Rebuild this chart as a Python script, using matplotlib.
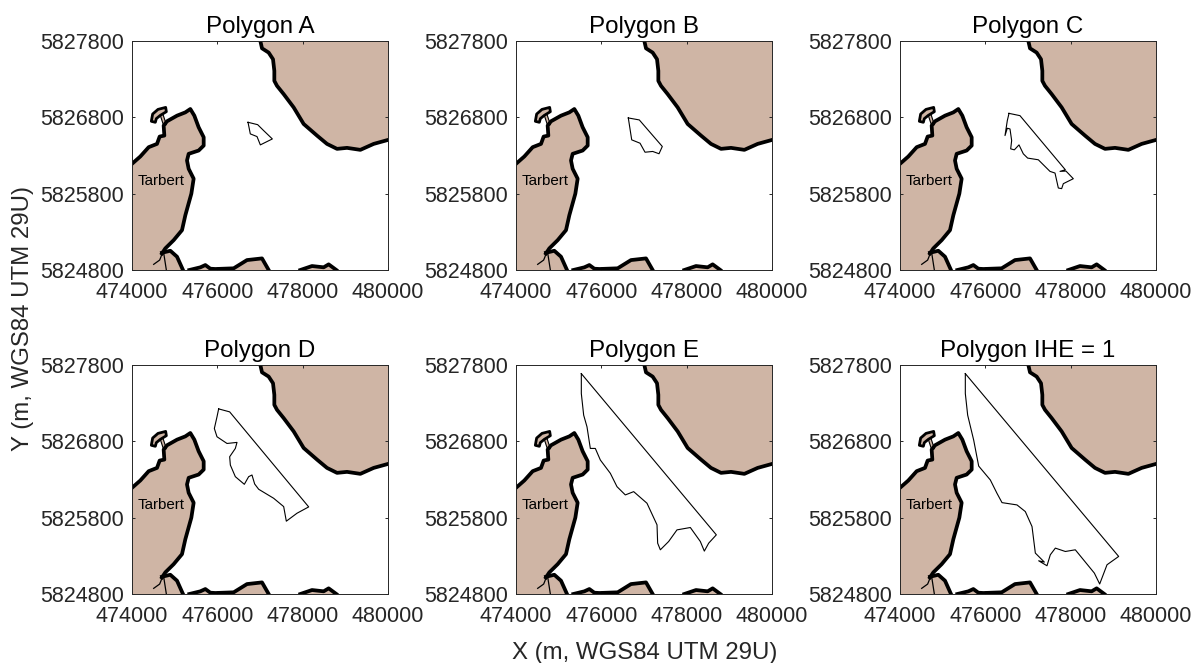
#!/usr/bin/env python3
" Polygon maps around Tarbert "
import matplotlib
matplotlib.use('Agg')
import matplotlib.pyplot as plt

plt.rcParams['font.family'] = ['Liberation Sans', 'DejaVu Sans']

titles = ['Polygon A', 'Polygon B', 'Polygon C',
          'Polygon D', 'Polygon E', 'Polygon IHE = 1']
xticks = [474000, 476000, 478000, 480000]
yticks = [5824800, 5825800, 5826800, 5827800]

# coast north east of the channel
ne_x = [477008, 477047, 477203, 477305, 477336, 477336, 477398, 477555, 477789,
        478023, 478336, 478570, 478805, 479039, 479352, 479664, 480000]
ne_y = [5827800, 5827704, 5827648, 5827561, 5827409, 5827278, 5827213, 5827104,
        5826930, 5826713, 5826561, 5826452, 5826387, 5826400, 5826374, 5826452,
        5826504]

# Tarbert shore, north to south
west_x = [474000, 474195, 474391, 474586, 474648, 474758, 474742, 474820,
          475055, 475250, 475367, 475461, 475562, 475680, 475680, 475562,
          475328, 475289, 475328, 475445, 475391, 475250, 475172, 474977,
          474781, 474703]
west_y = [5826191, 5826287, 5826409, 5826452, 5826548, 5826561, 5826691,
          5826748, 5826822, 5826865, 5826909, 5826822, 5826670, 5826539,
          5826430, 5826365, 5826322, 5826235, 5826126, 5825996, 5825800,
          5825517, 5825322, 5825191, 5825083, 5825017]
tail_x = [474703, 474680, 474648, 474508]
tail_y = [5825017, 5824974, 5824930, 5824874]
south_x = [474703, 474898, 475055, 475195]
south_y = [5825026, 5825052, 5824974, 5824800]
inner_x = [474742, 474805]
inner_y = [5825026, 5824800]

# small loop and its neck
loop_x = [474453, 474484, 474609, 474789, 474805, 474664, 474570, 474547]
loop_y = [5826748, 5826843, 5826904, 5826930, 5826874, 5826826, 5826783, 5826735]
neck_x = [474648, 474742, 474805, 474711]
neck_y = [5826852, 5826691, 5826704, 5826865]

# bits of land along the bottom edge
bot1_x = [475344, 475602, 475719, 475836, 475953, 476383, 476695, 477047, 477203]
bot1_y = [5824800, 5824835, 5824865, 5824817, 5824813, 5824822, 5824930,
          5824952, 5824800]
bot2_x = [477945, 478219, 478492, 478609, 478789]
bot2_y = [5824800, 5824852, 5824835, 5824874, 5824800]

# polygons
a_x = [476719, 476945, 477086, 477289, 477008, 476930, 476773]
a_y = [5826735, 5826704, 5826626, 5826517, 5826439, 5826548, 5826583]
b_x = [476632, 476890, 477429, 477352, 477204, 477024, 476907, 476712]
b_y = [5826792, 5826766, 5826418, 5826323, 5826353, 5826343, 5826461, 5826505]
c_x = [476555, 476812, 477875, 477750, 477890, 478062, 477828, 477789, 477711,
       477633, 477515, 477242, 476992, 476890, 476789, 476680, 476594, 476617,
       476578, 476515, 476461, 476515]
c_y = [5826852, 5826822, 5826113, 5826092, 5826096, 5825996, 5825931, 5825866,
       5825874, 5826070, 5826092, 5826244, 5826266, 5826322, 5826439, 5826374,
       5826387, 5826496, 5826648, 5826657, 5826561, 5826757]
d_x = [476031, 476289, 478141, 477867, 477617, 477555, 477320, 476969, 476875,
       476812, 476734, 476633, 476422, 476305, 476289, 476422, 476461, 476227,
       475992, 475930, 475992]
d_y = [5827225, 5827186, 5825941, 5825858, 5825754, 5825945, 5826054, 5826172,
       5826241, 5826359, 5826337, 5826237, 5826337, 5826489, 5826598, 5826707,
       5826786, 5826772, 5826860, 5826968, 5827121]
e_x = [475531, 478695, 478516, 478414, 478320, 478086, 477773, 477578, 477383,
       477320, 477305, 477070, 476758, 476562, 476367, 476211, 475977, 475859,
       475742, 475664, 475586, 475531]
e_y = [5827687, 5825575, 5825466, 5825362, 5825488, 5825671, 5825640, 5825488,
       5825379, 5825466, 5825706, 5825989, 5826141, 5826098, 5826206, 5826381,
       5826555, 5826707, 5826707, 5826990, 5827143, 5827426]
ihe_x = [475531, 479125, 478852, 478680, 478555, 478109, 477875, 477641, 477523,
         477445, 477250, 477383, 477172, 477094, 476937, 476742, 476391, 476273,
         476117, 475844, 475727, 475586, 475531]
ihe_y = [5827687, 5825292, 5825183, 5824931, 5825074, 5825379, 5825357, 5825401,
         5825314, 5825170, 5825235, 5825218, 5825336, 5825684, 5825880, 5825967,
         5825997, 5826119, 5826294, 5826476, 5826816, 5827143, 5827426]
poly_x = [a_x, b_x, c_x, d_x, e_x, ihe_x]
poly_y = [a_y, b_y, c_y, d_y, e_y, ihe_y]

land = '#cfb5a5'
dark = '#262626'
coast_lw = 2.7
W, H = 1197, 663
lefts = [132, 516, 900]
tops = [41, 365]


def draw_land(ax):
    ax.fill(ne_x + [480000], ne_y + [5827800], color=land, lw=0)
    ax.fill([474000] + west_x + south_x + [474000],
            [5824800] + west_y + south_y + [5824800], color=land, lw=0)
    ax.fill(bot1_x, bot1_y, color=land, lw=0)
    ax.fill(bot2_x, bot2_y, color=land, lw=0)
    ax.fill(neck_x, neck_y, facecolor=land, edgecolor='k', lw=0.8)
    ax.fill(loop_x, loop_y, facecolor=land, edgecolor='k', lw=2.0,
            joinstyle='round')
    for x, y in [(ne_x, ne_y), (west_x, west_y), (south_x, south_y),
                 (bot1_x, bot1_y), (bot2_x, bot2_y)]:
        ax.plot(x, y, color='k', lw=coast_lw, solid_joinstyle='round')
    ax.plot(tail_x, tail_y, color='k', lw=0.9)
    ax.plot(inner_x, inner_y, color='k', lw=0.9)
    ax.text(474130, 5825970, 'Tarbert', fontsize=10.9, color='k', va='center')


fig = plt.figure(figsize=(W / 100, H / 100), dpi=100)
for i in range(6):
    left = lefts[i % 3]
    top = tops[i // 3]
    ax = fig.add_axes([left / W, 1 - (top + 229) / H, 256 / W, 229 / H])
    draw_land(ax)
    ax.plot(poly_x[i] + poly_x[i][:1], poly_y[i] + poly_y[i][:1], color='k', lw=0.8)
    ax.set_xlim(474000, 480000)
    ax.set_ylim(5824800, 5827800)
    ax.set_xticks(xticks)
    ax.set_yticks(yticks)
    ax.set_xticklabels([str(v) for v in xticks])
    ax.set_yticklabels([str(v) for v in yticks])
    ax.tick_params(direction='in', length=2.5, width=0.7, top=True, right=True,
                   labelcolor=dark, color=dark, labelsize=15.5)
    ax.tick_params(axis='x', pad=8.5)
    ax.tick_params(axis='y', pad=5.5)
    for s in ax.spines.values():
        s.set_linewidth(0.7)
        s.set_color(dark)
    ax.set_title(titles[i], fontsize=17.4, color='k', pad=6)

fig.text(645 / W, 1 - 653 / H, 'X (m, WGS84 UTM 29U)', fontsize=17.3, color=dark,
         ha='center', va='center')
fig.text(23 / W, 1 - 318 / H, 'Y (m, WGS84 UTM 29U)', fontsize=17.3, color=dark,
         ha='center', va='center', rotation=90)

fig.savefig('out.png', dpi=100)
